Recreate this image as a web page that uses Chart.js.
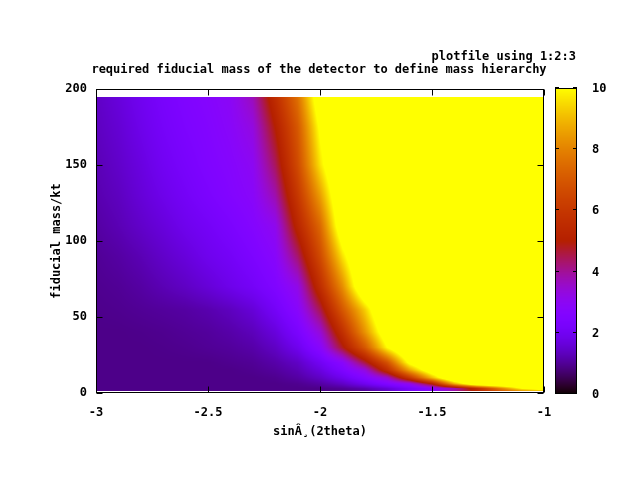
<!DOCTYPE html>
<html>
<head>
<meta charset="utf-8">
<script src="https://cdn.jsdelivr.net/npm/chart.js@4.4.0/dist/chart.umd.min.js"></script>
<style>
  html, body { margin: 0; padding: 0; background: #fff; }
  canvas { display: block; }
</style>
</head>
<body>
<canvas id="myChart" width="640" height="480"></canvas>
<script>
// log10(sin^2 2theta) grid columns
const xVals = [-3.0, -2.9, -2.8, -2.7, -2.6, -2.5, -2.4, -2.3, -2.2, -2.1, -2.0,
               -1.9, -1.8, -1.7, -1.6, -1.5, -1.4, -1.3, -1.2, -1.1, -1.0]
// fiducial mass rows (kt)
const massVals = [1, 3, 6, 10, 15, 20, 30, 40, 55, 70, 90, 110, 130, 150, 175, 195]
// z values, one row per mass (values above 10 show as yellow)
const m1   = [0.9, 0.9, 0.9, 0.9, 0.9, 0.9, 0.9, 0.9, 0.9, 0.9, 0.9, 0.9, 1.0, 1.4, 2.2, 2.8, 3.8, 5.2, 6.8, 8.0, 8.8]
const m3   = [0.9, 0.9, 0.9, 0.9, 0.9, 0.9, 0.9, 0.9, 0.9, 0.9, 0.9, 1.0, 1.2, 1.6, 2.2, 2.8, 3.8, 5.6, 7.8, 10, 11]
const m6   = [0.9, 0.9, 0.9, 0.9, 0.9, 0.9, 0.9, 0.9, 0.9, 0.95, 1.1, 1.4, 1.9, 2.5, 3.1, 5.0, 8.8, 11.5, 12, 12, 12]
const m10  = [0.9, 0.9, 0.9, 0.9, 0.9, 0.9, 0.9, 0.9, 0.95, 1.1, 1.4, 1.9, 2.6, 3.5, 6.0, 9.0, 12, 12, 12, 12, 12]
const m15  = [0.9, 0.9, 0.9, 0.9, 0.9, 0.9, 0.9, 0.95, 1.05, 1.25, 1.7, 2.4, 3.3, 5.6, 8.6, 11, 12, 12, 12, 12, 12]
const m20  = [0.9, 0.9, 0.9, 0.9, 0.9, 0.9, 0.95, 1.0, 1.15, 1.4, 2.0, 2.8, 4.6, 6.8, 10.3, 12, 12, 12, 12, 12, 12]
const m30  = [0.9, 0.9, 0.9, 0.92, 0.95, 1.0, 1.05, 1.15, 1.4, 1.9, 2.8, 4.8, 7.0, 10, 12, 12, 12, 12, 12, 12, 12]
const m40  = [0.9, 0.9, 0.92, 0.95, 1.0, 1.05, 1.15, 1.3, 1.65, 2.3, 3.4, 5.7, 8.3, 11, 12, 12, 12, 12, 12, 12, 12]
const m55  = [0.92, 0.95, 1.0, 1.05, 1.1, 1.2, 1.35, 1.6, 2.1, 2.8, 4.5, 7.0, 9.3, 12, 12, 12, 12, 12, 12, 12, 12]
const m70  = [0.95, 1.0, 1.1, 1.25, 1.4, 1.6, 1.85, 2.1, 2.5, 3.2, 5.6, 8.2, 11.5, 12, 12, 12, 12, 12, 12, 12, 12]
const m90  = [1.0, 1.1, 1.25, 1.45, 1.65, 1.9, 2.1, 2.4, 2.8, 4.3, 6.6, 9.6, 12, 12, 12, 12, 12, 12, 12, 12, 12]
const m110 = [1.1, 1.25, 1.45, 1.65, 1.9, 2.1, 2.35, 2.65, 3.1, 5.3, 7.4, 11, 12, 12, 12, 12, 12, 12, 12, 12, 12]
const m130 = [1.2, 1.35, 1.6, 1.85, 2.1, 2.35, 2.6, 2.85, 3.8, 6.0, 8.5, 11.5, 12, 12, 12, 12, 12, 12, 12, 12, 12]
const m150 = [1.25, 1.45, 1.7, 2.0, 2.25, 2.5, 2.7, 3.0, 4.4, 6.6, 9.6, 12, 12, 12, 12, 12, 12, 12, 12, 12, 12]
const m175 = [1.35, 1.55, 1.85, 2.15, 2.4, 2.6, 2.85, 3.3, 5.0, 7.0, 10.2, 12, 12, 12, 12, 12, 12, 12, 12, 12, 12]
const m195 = [1.4, 1.65, 1.95, 2.25, 2.5, 2.7, 2.95, 3.7, 5.6, 7.6, 11, 12, 12, 12, 12, 12, 12, 12, 12, 12, 12]
const zRows = [m1, m3, m6, m10, m15, m20, m30, m40, m55, m70, m90, m110, m130, m150, m175, m195]

const xTicks = [-3, -2.5, -2, -1.5, -1]
const yTicks = [0, 50, 100, 150, 200]
const cbTicks = [0, 2, 4, 6, 8, 10]
const cbMin = 0, cbMax = 10

const FONT = 'bold 12px "DejaVu Sans Mono", "Liberation Mono", monospace'

// gnuplot default palette rgbformulae 7,5,15
const palette = (v) => {
  let t = (v - cbMin) / (cbMax - cbMin)
  t = Math.max(0, Math.min(1, t))
  const r = Math.sqrt(t)
  const g = t * t * t
  const b = Math.max(0, Math.min(1, Math.sin(2 * Math.PI * t)))
  return [Math.round(r * 255), Math.round(g * 255), Math.round(b * 255)]
}

const findIdx = (arr, v) => {
  for (let i = 0; i < arr.length - 1; i++) {
    if (v <= arr[i + 1]) return i
  }
  return arr.length - 2
}

const zAt = (x, m) => {
  const i = findIdx(xVals, x)
  const j = findIdx(massVals, m)
  const fx = (x - xVals[i]) / (xVals[i + 1] - xVals[i])
  const fy = (m - massVals[j]) / (massVals[j + 1] - massVals[j])
  const a = zRows[j][i], b = zRows[j][i + 1]
  const c = zRows[j + 1][i], d = zRows[j + 1][i + 1]
  return (a * (1 - fx) + b * fx) * (1 - fy) + (c * (1 - fx) + d * fx) * fy
}

const points = []
massVals.forEach((m, j) => {
  xVals.forEach((x, i) => points.push({ x: x, y: m, z: zRows[j][i] }))
})

const heatmapPlugin = {
  id: 'heatmap',
  beforeDraw(chart) {
    const ctx = chart.ctx
    ctx.save()
    ctx.fillStyle = '#fff'
    ctx.fillRect(0, 0, chart.width, chart.height)
    ctx.restore()
  },
  beforeDatasetsDraw(chart) {
    const { ctx, chartArea, scales } = chart
    const xs = scales.x, ys = scales.y
    const left = Math.round(chartArea.left), top = Math.round(chartArea.top)
    const w = Math.round(chartArea.right) - left
    const h = Math.round(chartArea.bottom) - top
    const img = ctx.getImageData(left, top, w, h)
    const mMin = massVals[0], mMax = massVals[massVals.length - 1]
    for (let py = 0; py < h; py++) {
      const m = ys.getValueForPixel(top + py + 0.5)
      if (m < mMin || m > mMax) continue
      for (let px = 0; px < w; px++) {
        const x = xs.getValueForPixel(left + px + 0.5)
        if (x < xVals[0] || x > xVals[xVals.length - 1]) continue
        const col = palette(zAt(x, m))
        const k = (py * w + px) * 4
        img.data[k] = col[0]
        img.data[k + 1] = col[1]
        img.data[k + 2] = col[2]
        img.data[k + 3] = 255
      }
    }
    ctx.putImageData(img, left, top)
  },
  afterDraw(chart) {
    const { ctx, chartArea, scales } = chart
    const xs = scales.x, ys = scales.y
    const L = Math.round(chartArea.left) + 0.5, R = Math.round(chartArea.right) - 0.5
    const T = Math.round(chartArea.top) + 0.5, B = Math.round(chartArea.bottom) - 0.5
    ctx.save()
    ctx.strokeStyle = '#000'
    ctx.lineWidth = 1
    // inward ticks, mirrored
    ctx.beginPath()
    xTicks.forEach(v => {
      const p = Math.round(xs.getPixelForValue(v)) + 0.5
      ctx.moveTo(p, B); ctx.lineTo(p, B - 6)
      ctx.moveTo(p, T); ctx.lineTo(p, T + 6)
    })
    yTicks.forEach(v => {
      const p = Math.round(ys.getPixelForValue(v)) + 0.5
      ctx.moveTo(L, p); ctx.lineTo(L + 6, p)
      ctx.moveTo(R, p); ctx.lineTo(R - 6, p)
    })
    ctx.stroke()
    ctx.strokeRect(L, T, R - L, B - T)

    // colour box
    const cbL = Math.round(chartArea.right) + 11
    const cbW = 22
    const cbT = Math.round(chartArea.top) - 1
    const cbB = Math.round(chartArea.bottom) + 1
    for (let y = cbT; y < cbB; y++) {
      const v = cbMin + (cbB - (y + 0.5)) / (cbB - cbT) * (cbMax - cbMin)
      const c = palette(v)
      ctx.fillStyle = `rgb(${c[0]},${c[1]},${c[2]})`
      ctx.fillRect(cbL, y, cbW, 1)
    }
    ctx.strokeRect(cbL + 0.5, cbT + 0.5, cbW - 1, cbB - cbT - 1)
    ctx.beginPath()
    ctx.font = FONT
    ctx.fillStyle = '#000'
    ctx.textAlign = 'left'
    ctx.textBaseline = 'middle'
    cbTicks.forEach(v => {
      const p = Math.round(cbB - (v - cbMin) / (cbMax - cbMin) * (cbB - cbT)) - 0.5
      ctx.moveTo(cbL, p); ctx.lineTo(cbL + 4, p)
      ctx.moveTo(cbL + cbW, p); ctx.lineTo(cbL + cbW - 4, p)
      ctx.fillText(String(v), cbL + cbW + 15, p + 1)
    })
    ctx.stroke()

    // titles
    ctx.textAlign = 'right'
    ctx.fillText('plotfile using 1:2:3', 576, 57)
    ctx.textAlign = 'center'
    ctx.fillText('required fiducial mass of the detector to define mass hierarchy', 319, 70)
    ctx.restore()
  }
}

const data = {
  datasets: [{
    label: 'plotfile using 1:2:3',
    data: points,
    pointRadius: 0,
    showLine: false
  }]
}

const tickFont = { family: '"DejaVu Sans Mono"', size: 12, weight: 'bold' }

const config = {
  type: 'scatter',
  data: data,
  options: {
    responsive: false,
    animation: false,
    devicePixelRatio: 1,
    layout: { padding: { left: 0, right: 96, top: 89, bottom: 0 } },
    plugins: {
      legend: { display: false },
      tooltip: { enabled: false }
    },
    scales: {
      x: {
        type: 'linear',
        min: -3, max: -1,
        afterFit: (s) => { s.height = 87 },
        afterBuildTicks: (s) => { s.ticks = xTicks.map(v => ({ value: v })) },
        grid: { display: false, drawTicks: false },
        border: { display: false },
        ticks: { font: tickFont, color: '#000', padding: 13, maxRotation: 0, callback: (v) => String(v) },
        title: { display: true, text: 'sinÂ¸(2theta)', color: '#000', font: tickFont, padding: { top: 0, bottom: 41 } }
      },
      y: {
        type: 'linear',
        min: 0, max: 200,
        afterFit: (s) => { s.width = 96 },
        afterBuildTicks: (s) => { s.ticks = yTicks.map(v => ({ value: v })) },
        grid: { display: false, drawTicks: false },
        border: { display: false },
        ticks: { font: tickFont, color: '#000', padding: 9, callback: (v) => String(v) },
        title: { display: true, text: 'fiducial mass/kt', color: '#000', font: tickFont, padding: { top: 50, bottom: 0 } }
      }
    }
  },
  plugins: [heatmapPlugin]
}

const myChart = new Chart(document.getElementById('myChart'), config)
</script>
</body>
</html>
